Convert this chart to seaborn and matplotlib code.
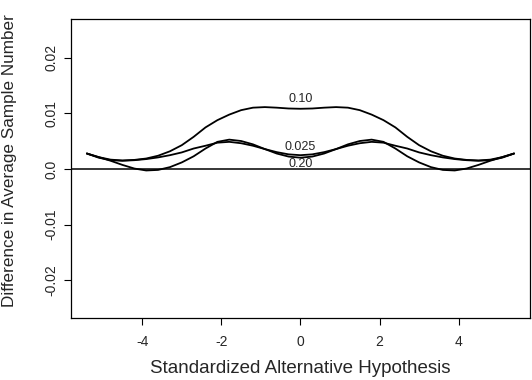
import pandas as pd
import matplotlib
matplotlib.use('Agg')
import matplotlib.pyplot as plt
import seaborn as sns

# standardized alternative hypothesis (x) and differences in ASN
hipotesis = [-5.4, -5.1, -4.8, -4.5, -4.2, -3.9, -3.6, -3.3, -3.0, -2.7, -2.4, -2.1, -1.8,
             -1.5, -1.2, -0.9, -0.6, -0.3, 0.0, 0.3, 0.6, 0.9, 1.2, 1.5, 1.8, 2.1,
             2.4, 2.7, 3.0, 3.3, 3.6, 3.9, 4.2, 4.5, 4.8, 5.1, 5.4]

dif_010 = [0.0028, 0.00215, 0.0017, 0.00155, 0.00165, 0.0019, 0.0024, 0.0032, 0.0043,
           0.0058, 0.0075, 0.0088, 0.0098, 0.0106, 0.01105, 0.01115, 0.01105, 0.0109,
           0.01085, 0.0109, 0.01105, 0.01115, 0.01105, 0.0106, 0.0098, 0.0088, 0.0075,
           0.0058, 0.0043, 0.0032, 0.0024, 0.0019, 0.00165, 0.00155, 0.0017, 0.00215, 0.0028]

dif_0025 = [0.0028, 0.00205, 0.0016, 0.0015, 0.0016, 0.0018, 0.0021, 0.0025, 0.0030,
            0.0037, 0.0042, 0.00475, 0.0049, 0.00465, 0.0042, 0.0036, 0.00305, 0.00265,
            0.0025, 0.00265, 0.00305, 0.0036, 0.0042, 0.00465, 0.0049, 0.00475, 0.0042,
            0.0037, 0.0030, 0.0025, 0.0021, 0.0018, 0.0016, 0.0015, 0.0016, 0.00205, 0.0028]

dif_020 = [0.0028, 0.00215, 0.0015, 0.00075, 0.0001, -0.00025, -0.00015, 0.00035, 0.0012,
           0.0023, 0.0037, 0.0049, 0.0053, 0.00505, 0.00445, 0.0036, 0.0028, 0.00225,
           0.00205, 0.00225, 0.0028, 0.0036, 0.00445, 0.00505, 0.0053, 0.0049, 0.0037,
           0.0023, 0.0012, 0.00035, -0.00015, -0.00025, 0.0001, 0.00075, 0.0015, 0.00215, 0.0028]

etiquetas = ['0.10', '0.025', '0.20']
etiqueta_y = [0.01265, 0.0039, 0.00095]

x_ticks = [-4, -2, 0, 2, 4]
y_ticks = [-0.02, -0.01, 0.0, 0.01, 0.02]
y_tick_labels = ['-0.02', '-0.01', '0.0', '0.01', '0.02']

df = pd.concat([
    pd.DataFrame({'x': hipotesis, 'dif': dif_010, 'alfa': '0.10'}),
    pd.DataFrame({'x': hipotesis, 'dif': dif_0025, 'alfa': '0.025'}),
    pd.DataFrame({'x': hipotesis, 'dif': dif_020, 'alfa': '0.20'}),
])

sns.set_style('white')
plt.rcParams['font.family'] = ['Liberation Sans', 'DejaVu Sans']

fig = plt.figure(figsize=(5.32, 3.80), dpi=100)
ax = fig.add_axes([0.1335, 0.163, 0.8625, 0.787])

sns.lineplot(data=df, x='x', y='dif', units='alfa', estimator=None,
             color='black', linewidth=1.3, ax=ax)
ax.axhline(0, color='black', linewidth=1.1)

for txt, yy in zip(etiquetas, etiqueta_y):
    ax.text(0, yy, txt, ha='center', va='center', fontsize=9)

ax.set_xlim(-5.8, 5.8)
ax.set_ylim(-0.0268, 0.0270)
ax.set_xticks(x_ticks)
ax.set_xticklabels([str(t) for t in x_ticks], fontsize=10)
ax.set_yticks(y_ticks)
ax.set_yticklabels(y_tick_labels, fontsize=10, rotation=90, va='center')
ax.tick_params(axis='both', direction='out', length=5, width=0.8, color='black',
               bottom=True, left=True)
ax.tick_params(axis='x', pad=7)
ax.tick_params(axis='y', pad=4)

for s in ax.spines.values():
    s.set_color('black')
    s.set_linewidth(0.9)

ax.set_xlabel('Standardized Alternative Hypothesis', fontsize=13.5)
ax.xaxis.set_label_coords(0.5, -0.14)
ax.set_ylabel('Difference in Average Sample Number', fontsize=12.3)
ax.yaxis.set_label_coords(-0.118, 0.525)

fig.savefig('out.png', dpi=100)
